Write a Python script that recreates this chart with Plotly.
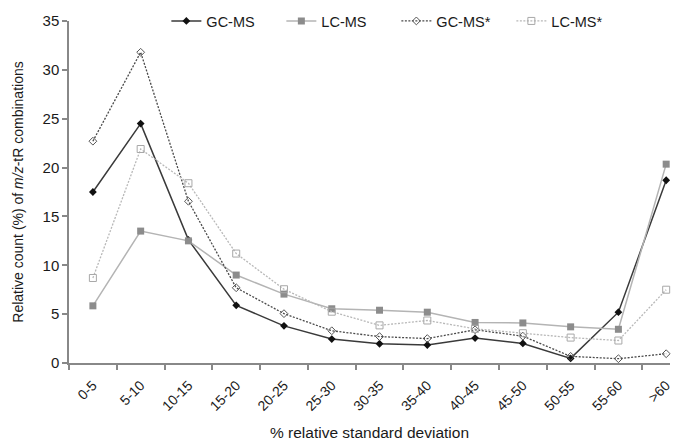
import plotly.graph_objects as go

# Relative standard deviation bins (%)
categories = ["0-5", "5-10", "10-15", "15-20", "20-25", "25-30", "30-35",
              "35-40", "40-45", "45-50", "50-55", "55-60", ">60"]

# Relative count (%) of m/z-tR combinations per bin
gc_ms = [17.5, 24.5, 12.6, 5.9, 3.8, 2.45, 1.97, 1.84, 2.55, 2.0, 0.47, 5.2, 18.7]
lc_ms = [5.85, 13.5, 12.5, 9.0, 7.05, 5.55, 5.4, 5.2, 4.15, 4.1, 3.7, 3.45, 20.35]
gc_ms_star = [22.7, 31.8, 16.55, 7.7, 5.05, 3.3, 2.7, 2.5, 3.4, 2.75, 0.68, 0.44, 0.95]
lc_ms_star = [8.7, 21.9, 18.4, 11.2, 7.55, 5.25, 3.85, 4.35, 3.5, 3.05, 2.6, 2.3, 7.5]

FONT = "Liberation Sans, Arial, sans-serif"
TEXT = "#1a1a1a"
FINE_DOT = "2px,1.5px"

fig = go.Figure()

fig.add_trace(go.Scatter(
    x=categories, y=gc_ms, name="GC-MS", mode="lines+markers",
    line=dict(color="#3a3a3a", width=1.5),
    marker=dict(symbol="diamond", size=6, color="#111111"),
    cliponaxis=False,
))
fig.add_trace(go.Scatter(
    x=categories, y=lc_ms, name="LC-MS", mode="lines+markers",
    line=dict(color="#b4b4b4", width=1.5),
    marker=dict(symbol="square", size=7, color="#8c8c8c"),
    cliponaxis=False,
))
fig.add_trace(go.Scatter(
    x=categories, y=gc_ms_star, name="GC-MS*", mode="lines+markers",
    line=dict(color="#4a4a4a", width=1.3, dash=FINE_DOT),
    marker=dict(symbol="diamond-open", size=6, color="#555555",
                line=dict(width=1)),
    cliponaxis=False,
))
fig.add_trace(go.Scatter(
    x=categories, y=lc_ms_star, name="LC-MS*", mode="lines+markers",
    line=dict(color="#b8b8b8", width=1.3, dash=FINE_DOT),
    marker=dict(symbol="square-open", size=7, color="#a8a8a8",
                line=dict(width=1)),
    cliponaxis=False,
))

fig.update_layout(
    width=673, height=443,
    margin=dict(l=69, r=0, t=21, b=80),
    paper_bgcolor="white", plot_bgcolor="white",
    font=dict(family=FONT, size=14, color=TEXT),
    showlegend=True,
    legend=dict(
        orientation="h", x=0.162, xanchor="left", y=1.0, yanchor="middle",
        font=dict(size=14.5, color=TEXT),
        entrywidth=70, entrywidthmode="pixels",
        bgcolor="rgba(0,0,0,0)", borderwidth=0,
    ),
    xaxis=dict(
        type="category", categoryorder="array", categoryarray=categories,
        range=[-0.5, 12.08], tickson="boundaries",
        ticks="outside", ticklen=5, tickcolor="#888888", tickwidth=1.5,
        showline=True, linecolor="#888888", linewidth=1.5,
        showgrid=False, zeroline=False,
        tickangle=-45, tickfont=dict(size=14, color=TEXT),
        ticklabelstandoff=7,
        title=dict(text="% relative standard deviation",
                   font=dict(size=15.5, color=TEXT), standoff=14),
    ),
    yaxis=dict(
        range=[0, 35], dtick=5, tick0=0,
        ticks="outside", ticklen=5, tickcolor="#888888", tickwidth=1.5,
        showline=True, linecolor="#888888", linewidth=1.5,
        showgrid=False, zeroline=False,
        tickfont=dict(size=15, color=TEXT),
        title=dict(text="Relative count (%) of <i>m/z</i>-tR combinations",
                   font=dict(size=14, color=TEXT), standoff=16),
    ),
)

fig.write_html("out.html")
